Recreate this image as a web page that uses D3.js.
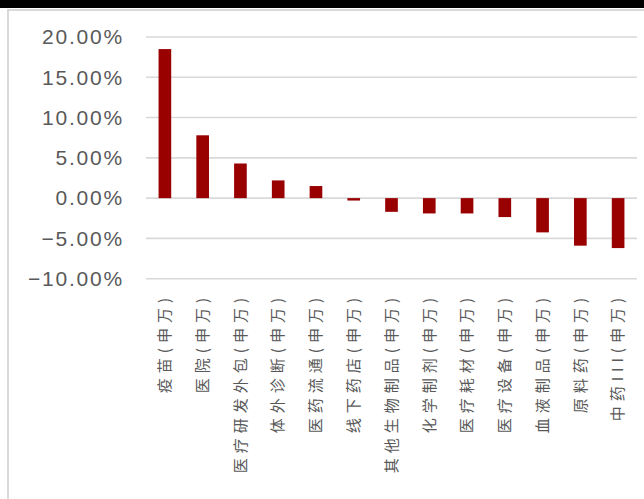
<!DOCTYPE html>
<html>
<head>
<meta charset="utf-8">
<script src="https://cdn.jsdelivr.net/npm/d3@7"></script>
<style>
  html, body { margin: 0; padding: 0; background: #fff; }
  svg { display: block; }
</style>
</head>
<body>
<svg id="chart" width="644" height="499"></svg>
<script>
const categories = ["疫苗(申万)", "医院(申万)", "医疗研发外包(申万)", "体外诊断(申万)", "医药流通(申万)", "线下药店(申万)", "其他生物制品(申万)", "化学制剂(申万)", "医疗耗材(申万)", "医疗设备(申万)", "血液制品(申万)", "原料药(申万)", "中药III(申万)"];
const values = [18.5, 7.8, 4.3, 2.2, 1.5, -0.3, -1.7, -1.9, -1.9, -2.35, -4.25, -5.9, -6.2];
const yTicks = [-10, -5, 0, 5, 10, 15, 20];

const svg = d3.select("#chart");

// top black band and light frame
svg.append("rect").attr("x", 0).attr("y", 0).attr("width", 644).attr("height", 8).attr("fill", "#000");
svg.append("line").attr("x1", 8).attr("x2", 644).attr("y1", 10).attr("y2", 10).attr("stroke", "#d9d9d9").attr("stroke-width", 2);
svg.append("line").attr("x1", 8).attr("x2", 8).attr("y1", 9).attr("y2", 499).attr("stroke", "#d9d9d9").attr("stroke-width", 2);

const x = d3.scaleBand().domain(categories).range([146, 637]).paddingInner(0.665).paddingOuter(0.3325);
const y = d3.scaleLinear().domain([-10, 20]).range([278.7, 37]);

// gridlines
svg.append("g").selectAll("line").data(yTicks).join("line")
  .attr("x1", 146).attr("x2", 637)
  .attr("y1", d => y(d)).attr("y2", d => y(d))
  .attr("stroke", "#d9d9d9").attr("stroke-width", 1.6);

// y axis labels
const yAxis = d3.axisLeft(y).tickValues(yTicks).tickSize(0).tickPadding(0)
  .tickFormat(d => d3.format(".2f")(d).replace("-", "−") + "%");
const gy = svg.append("g").attr("transform", "translate(124,0)").call(yAxis);
gy.select(".domain").remove();
gy.selectAll("text")
  .attr("fill", "#595959")
  .style("font-family", "'Liberation Sans', Arial, sans-serif")
  .style("font-size", "21px")
  .style("letter-spacing", "1.8px");

// bars
svg.append("g").selectAll("rect").data(values).join("rect")
  .attr("x", (d, i) => x(categories[i]))
  .attr("width", x.bandwidth())
  .attr("y", d => y(Math.max(0, d)))
  .attr("height", d => Math.abs(y(d) - y(0)))
  .attr("fill", "#990000");

// x labels (rotated)
const xAxis = d3.axisBottom(x).tickSize(0).tickPadding(0);
const gx = svg.append("g").attr("transform", "translate(0,293)").call(xAxis);
gx.select(".domain").remove();
gx.selectAll("text")
  .attr("transform", "rotate(-90)")
  .attr("x", 0).attr("y", 0).attr("dy", "0.35em")
  .attr("text-anchor", "end")
  .attr("fill", "#595959")
  .style("font-family", "'Noto Sans CJK SC', sans-serif")
  .style("font-size", "15px")
  .style("letter-spacing", "5px");
</script>
</body>
</html>
